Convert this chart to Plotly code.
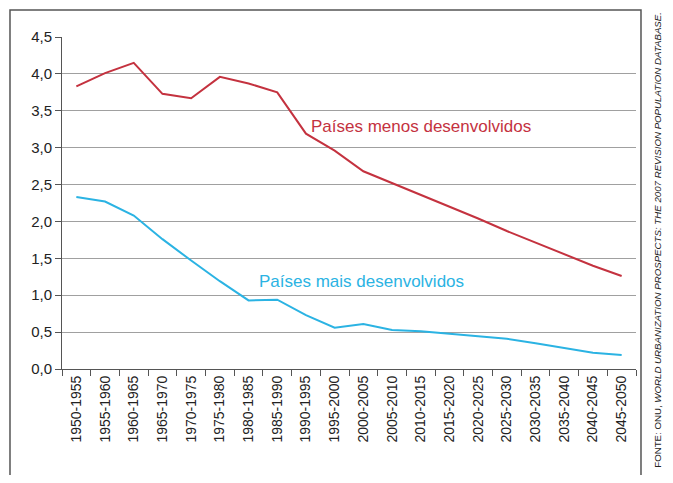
import plotly.graph_objects as go

periodos = ["1950-1955", "1955-1960", "1960-1965", "1965-1970", "1970-1975",
            "1975-1980", "1980-1985", "1985-1990", "1990-1995", "1995-2000",
            "2000-2005", "2005-2010", "2010-2015", "2015-2020", "2020-2025",
            "2025-2030", "2030-2035", "2035-2040", "2040-2045", "2045-2050"]

menos_desenvolvidos = [3.83, 4.01, 4.15, 3.73, 3.67, 3.96, 3.87, 3.75, 3.19, 2.96,
                       2.68, 2.52, 2.37, 2.21, 2.04, 1.87, 1.71, 1.55, 1.40, 1.26]

mais_desenvolvidos = [2.33, 2.27, 2.08, 1.76, 1.47, 1.19, 0.93, 0.94, 0.73, 0.56,
                      0.61, 0.53, 0.51, 0.48, 0.45, 0.41, 0.35, 0.28, 0.22, 0.19]

y_ticks = [0, 0.5, 1, 1.5, 2, 2.5, 3, 3.5, 4, 4.5]
y_labels = ["0,0", "0,5", "1,0", "1,5", "2,0", "2,5", "3,0", "3,5", "4,0", "4,5"]

vermelho = "#c4323f"
azul = "#2bb3e3"
fonte = "Liberation Sans Narrow, Liberation Sans, Arial"

fig = go.Figure()
fig.add_trace(go.Scatter(x=periodos, y=menos_desenvolvidos, mode="lines",
                         line=dict(color=vermelho, width=2),
                         name="Países menos desenvolvidos"))
fig.add_trace(go.Scatter(x=periodos, y=mais_desenvolvidos, mode="lines",
                         line=dict(color=azul, width=2),
                         name="Países mais desenvolvidos"))

# rótulos das séries
fig.add_annotation(x=periodos[8], y=3.29, text="Países menos desenvolvidos",
                   showarrow=False, xanchor="left", xshift=3,
                   font=dict(color=vermelho, size=17, family=fonte))
fig.add_annotation(x=periodos[6], y=1.19, text="Países mais desenvolvidos",
                   showarrow=False, xanchor="left", xshift=8,
                   font=dict(color=azul, size=17, family=fonte))

# fonte dos dados, na lateral
fig.add_annotation(xref="paper", yref="paper", x=1.036, y=1.081,
                   text="FONTE: ONU, <i>WORLD URBANIZATION PROSPECTS: THE 2007 REVISION POPULATION DATABASE.</i>",
                   textangle=-90, showarrow=False, xanchor="center", yanchor="top",
                   font=dict(color="#222222", size=9.7, family=fonte))

# moldura
fig.add_shape(type="rect", xref="paper", yref="paper",
              x0=-0.0906, x1=1.0087, y0=-0.5, y1=1.081,
              line=dict(color="#555555", width=1.5), layer="above")

# a página tem margem de 8px, por isso a figura é menor que a janela
fig.update_layout(
    width=657, height=467,
    margin=dict(l=54, r=29, t=29, b=106),
    paper_bgcolor="white", plot_bgcolor="white",
    showlegend=False,
    font=dict(family=fonte, color="#222222"),
)
fig.update_xaxes(type="category", range=[-0.5, 19.5], tickangle=-90,
                 showgrid=False, showline=True, linecolor="#555555", linewidth=1,
                 ticks="outside", tickson="boundaries", ticklen=6, tickcolor="#555555",
                 tickfont=dict(size=14, family=fonte))
fig.update_yaxes(range=[0, 4.5], tickvals=y_ticks, ticktext=y_labels,
                 showgrid=True, gridcolor="#a0a0a0", gridwidth=1.3,
                 showline=True, linecolor="#555555", linewidth=1,
                 ticks="outside", ticklen=6, tickcolor="#555555", zeroline=False,
                 tickfont=dict(size=15, family=fonte))

fig.write_html("out.html")
